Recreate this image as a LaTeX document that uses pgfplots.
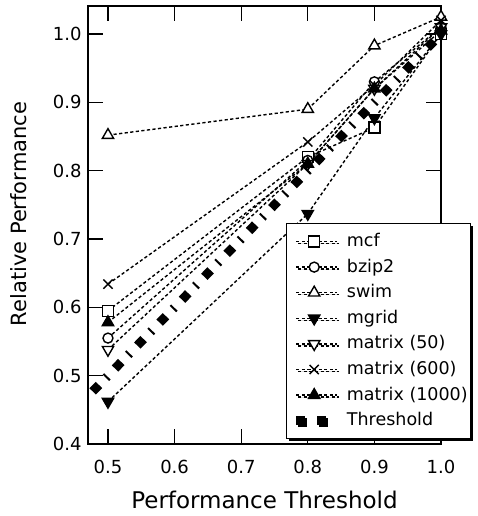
\documentclass[border=0pt]{standalone}
\usepackage{pgfplots}
\pgfplotsset{compat=1.18}
\usepackage{fontspec}
\setmainfont{DejaVu Sans}
\usetikzlibrary{shadows}

\begin{document}
\begin{tikzpicture}
% page = 477 x 516, axis box 353 x 438 placed like the reference
\useasboundingbox (-88pt,-72pt) rectangle (389pt,444pt);
\begin{axis}[
  at={(0pt,0pt)}, anchor=south west,
  scale only axis,
  width=353pt, height=438pt,
  xmin=0.47, xmax=1.0,
  ymin=0.4, ymax=1.041,
  xtick={0.5,0.6,0.7,0.8,0.9,1.0},
  ytick={0.4,0.5,0.6,0.7,0.8,0.9,1.0},
  /pgf/number format/.cd, fixed, fixed zerofill, precision=1, assume math mode=true,
  /pgfplots/.cd,
  tick align=inside,
  major tick length=15pt,
  every tick/.style={black, line width=1.3pt},
  axis line style={line width=1.3pt},
  ticklabel style={font=\fontsize{18}{21}\selectfont},
  yticklabel style={anchor=east, xshift=-3pt},
  xticklabel style={anchor=base, yshift=-29pt},
  xlabel={Performance Threshold},
  ylabel={Relative Performance},
  every axis x label/.style={at={(axis description cs:0.5,0)}, anchor=base, yshift=-64pt,
    font=\fontsize{23}{27}\selectfont},
  every axis y label/.style={at={(axis description cs:-0.173,0.525)}, rotate=90, anchor=base,
    font=\fontsize{21}{25}\selectfont},
  clip=false,
  every axis plot/.append style={black, line width=1.4pt, dash pattern=on 3.2pt off 2.4pt},
  legend cell align=left,
  legend style={
    at={(axis cs:0.7673,0.7234)}, anchor=north west,
    draw=black, line width=1pt, fill=white,
    drop shadow={shadow xshift=2pt, shadow yshift=-2pt, opacity=1, fill=black},
    font=\fontsize{17.5}{21}\selectfont,
    inner xsep=1pt, inner ysep=7pt, row sep=3.6pt,
    nodes={inner sep=2pt, text height=14pt, text depth=4pt},
  },
  legend image code/.code={
    \path (0pt,0pt) (56pt,0pt);
    \draw[mark repeat=2, mark phase=2] plot coordinates {(8pt,0pt) (26pt,0pt) (49pt,0pt)};
  },
]

\addplot[mark=square*, mark size=5.5pt, mark options={solid, fill=white}]
  coordinates {(0.5,0.595) (0.8,0.82) (0.9,0.863) (1.0,1.0)};
\addlegendentry{mcf}

\addplot[mark=*, mark size=5pt, mark options={solid, fill=white}]
  coordinates {(0.5,0.555) (0.8,0.815) (0.9,0.93) (1.0,1.01)};
\addlegendentry{bzip2}

\addplot[mark=triangle*, mark size=6.5pt, mark options={solid, fill=white}]
  coordinates {(0.5,0.852) (0.8,0.89) (0.9,0.983) (1.0,1.025)};
\addlegendentry{swim}

\addplot[mark=triangle*, mark size=6.5pt, mark options={solid, fill=black, rotate=180}]
  coordinates {(0.5,0.462) (0.8,0.737) (0.9,0.877) (1.0,1.0)};
\addlegendentry{mgrid}

\addplot[mark=triangle*, mark size=6.5pt, mark options={solid, fill=white, rotate=180}]
  coordinates {(0.5,0.538) (0.8,0.81) (0.9,0.92) (1.0,1.01)};
\addlegendentry{matrix (50)}

\addplot[mark=x, mark size=6.5pt, mark options={solid}]
  coordinates {(0.5,0.634) (0.8,0.842) (0.9,0.925) (1.0,1.02)};
\addlegendentry{matrix (600)}

\addplot[mark=triangle*, mark size=6.5pt, mark options={solid, fill=black}]
  coordinates {(0.5,0.578) (0.8,0.81) (0.9,0.92) (1.0,1.005)};
\addlegendentry{matrix (1000)}

% threshold: thick dashed line, drawn diagonally the dashes look like diamonds
\addplot[forget plot, no marks, line width=9pt, dash pattern=on 9pt off 10pt on 2pt off 11pt]
  coordinates {(0.477,0.477) (1.0,1.0)};
\addlegendimage{solid, black, line width=0pt,
  legend image code/.code={
    \path (0pt,0pt) (56pt,0pt);
    \fill[black] (8pt,-4pt) rectangle (16pt,4pt);
    \fill[black] (29pt,-4pt) rectangle (37pt,4pt);
  }}
\addlegendentry{Threshold}

\end{axis}
\end{tikzpicture}
\end{document}
